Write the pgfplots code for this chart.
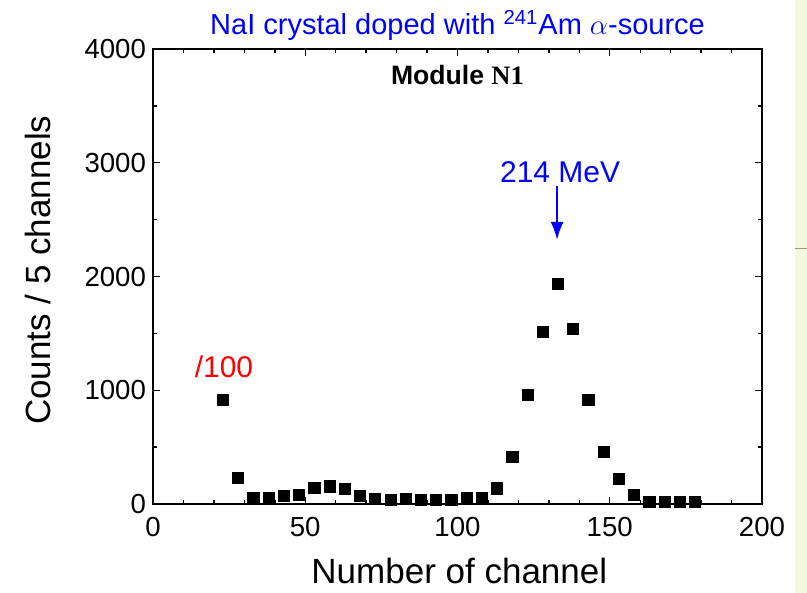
\documentclass[border=0pt]{standalone}
\usepackage{pgfplots}
\pgfplotsset{compat=1.18}
\usetikzlibrary{arrows.meta}
\usepackage{fontspec}
\setmainfont{Liberation Sans}
\newfontfamily\seriffont{Liberation Serif}
\definecolor{strip}{RGB}{243,247,222}
\definecolor{stripline}{RGB}{170,150,120}
\begin{document}
\begin{tikzpicture}
\path[use as bounding box] (-76.5pt,-44.5pt) rectangle (327pt,252pt);
\fill[strip] (321pt,-44.5pt) rectangle (327pt,252pt);
\draw[stripline, line width=0.5pt] (321pt,127.5pt) -- (327pt,127.5pt);
\begin{axis}[
  at={(0pt,0pt)}, anchor=south west,
  scale only axis, width=304.5pt, height=227.5pt,
  xmin=0, xmax=200, ymin=0, ymax=4000,
  xtick={0,50,...,200}, ytick={0,1000,...,4000},
  minor x tick num=4, minor y tick num=1,
  tick align=inside,
  major tick length=3.5pt, minor tick length=2pt,
  axis line style={line width=0.9pt},
  every tick/.style={black, line width=0.7pt},
  tick label style={font=\fontsize{13.8}{16}\selectfont},
  xticklabel style={yshift=-3pt},
  /pgf/number format/assume math mode=true,
  /pgf/number format/1000 sep={},
  xlabel={Number of channel},
  ylabel={Counts / 5 channels},
  label style={font=\fontsize{17.5}{20}\selectfont},
  xlabel style={at={(axis description cs:0.503,-0.174)}, anchor=base},
  ylabel style={at={(axis description cs:-0.189,0.514)}, anchor=center, rotate=0},
  clip=false,
]
\addplot[only marks, mark=square*, mark size=2.8pt, black] coordinates {
(23,914) (28,231) (33,50) (38,55) (43,73) (48,82) (53,143) (58,155)
(63,135) (68,73) (73,44) (78,35) (83,44) (88,35) (93,35) (98,35)
(103,50) (108,50) (113,138) (118,416) (123,958) (128,1512) (133,1937)
(138,1538) (143,917) (148,460) (153,220) (158,79) (163,20) (168,15)
(173,15) (178,15)
};
\node[anchor=base, text=blue, font=\fontsize{14.5}{17}\selectfont]
  at (axis description cs:0.5,1.031) {NaI crystal doped with \textsuperscript{241}Am $\alpha$-source};
\node[anchor=base, font=\fontsize{13.3}{16}\selectfont\bfseries]
  at (axis description cs:0.5,0.921) {Module {\seriffont N1}};
\node[anchor=base, text=blue, font=\fontsize{15}{18}\selectfont]
  at (axis cs:133.7,2822) {214 MeV};
\draw[blue, line width=1.1pt, -{Latex[length=9pt,width=6.5pt]}] (axis cs:132.7,2796) -- (axis cs:132.7,2321);
\node[anchor=base, text=red, font=\fontsize{15}{18}\selectfont]
  at (axis cs:23.3,1108) {/100};
\end{axis}
\end{tikzpicture}
\end{document}
